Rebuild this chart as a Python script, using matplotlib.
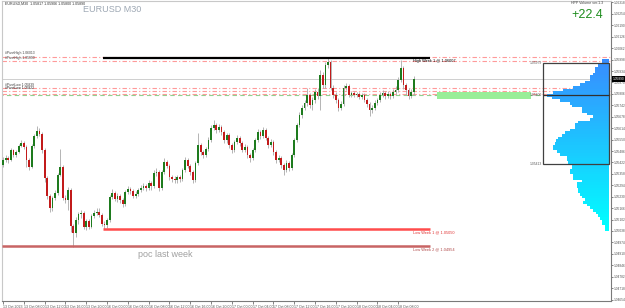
import matplotlib.pyplot as plt
from matplotlib.patches import Rectangle
from matplotlib.transforms import blended_transform_factory

# EURUSD M30 candles (open of each bar = previous close)
first_open = 1.05408
closes = [1.05436, 1.05447, 1.05436, 1.05492, 1.05464, 1.05481, 1.05514, 1.05531, 1.05509, 1.05436,
          1.05397, 1.05514, 1.05570, 1.05598, 1.05582, 1.05492, 1.05335, 1.05234, 1.05167, 1.05223,
          1.05251, 1.05352, 1.05397, 1.05223, 1.05212, 1.05268, 1.05066, 1.05027, 1.05100, 1.05134,
          1.05139, 1.05061, 1.05094, 1.05061, 1.05122, 1.05139, 1.05145, 1.05128, 1.05078, 1.05072,
          1.05100, 1.05229, 1.05251, 1.05218, 1.05234, 1.05212, 1.05190, 1.05257, 1.05274, 1.05262,
          1.05234, 1.05246, 1.05268, 1.05279, 1.05290, 1.05279, 1.05307, 1.05290, 1.05363, 1.05369,
          1.05279, 1.05369, 1.05425, 1.05402, 1.05341, 1.05330, 1.05324, 1.05341, 1.05330, 1.05380,
          1.05436, 1.05402, 1.05369, 1.05324, 1.05419, 1.05520, 1.05481, 1.05464, 1.05498, 1.05548,
          1.05615, 1.05632, 1.05604, 1.05621, 1.05593, 1.05548, 1.05576, 1.05520, 1.05492, 1.05537,
          1.05559, 1.05531, 1.05492, 1.05509, 1.05464, 1.05447, 1.05492, 1.05548, 1.05593, 1.05570,
          1.05604, 1.05559, 1.05520, 1.05537, 1.05481, 1.05436, 1.05447, 1.05408, 1.05380, 1.05419,
          1.05391, 1.05464, 1.05548, 1.05632, 1.05688, 1.05727, 1.05755, 1.05800, 1.05744, 1.05772,
          1.05817, 1.05794, 1.05912, 1.05856, 1.05968, 1.05985, 1.05839, 1.05800, 1.05772, 1.05727,
          1.05750, 1.05839, 1.05850, 1.05800, 1.05811, 1.05800, 1.05806, 1.05789, 1.05800, 1.05772,
          1.05750, 1.05716, 1.05727, 1.05755, 1.05772, 1.05800, 1.05811, 1.05794, 1.05806, 1.05794,
          1.05817, 1.05828, 1.05884, 1.05951, 1.05856, 1.05828, 1.05794, 1.05817, 1.05890]
highs = [1.05453, 1.05464, 1.05458, 1.05503, 1.05498, 1.05492, 1.05526, 1.05548, 1.05542, 1.05520,
         1.05447, 1.05526, 1.05582, 1.05626, 1.05615, 1.05593, 1.05503, 1.05346, 1.05246, 1.05234,
         1.05268, 1.05363, 1.05498, 1.05408, 1.05240, 1.05285, 1.05279, 1.05078, 1.05117, 1.05145,
         1.05156, 1.05150, 1.05106, 1.05106, 1.05134, 1.05156, 1.05167, 1.05167, 1.05139, 1.05094,
         1.05111, 1.05240, 1.05274, 1.05262, 1.05251, 1.05246, 1.05223, 1.05268, 1.05290, 1.05285,
         1.05274, 1.05262, 1.05279, 1.05296, 1.05307, 1.05302, 1.05324, 1.05318, 1.05380, 1.05391,
         1.05380, 1.05380, 1.05447, 1.05436, 1.05414, 1.05352, 1.05346, 1.05352, 1.05352, 1.05391,
         1.05453, 1.05447, 1.05414, 1.05380, 1.05430, 1.05587, 1.05531, 1.05492, 1.05509, 1.05565,
         1.05632, 1.05660, 1.05643, 1.05638, 1.05632, 1.05604, 1.05587, 1.05587, 1.05531, 1.05548,
         1.05576, 1.05570, 1.05542, 1.05526, 1.05520, 1.05475, 1.05503, 1.05559, 1.05610, 1.05604,
         1.05621, 1.05615, 1.05570, 1.05554, 1.05548, 1.05492, 1.05464, 1.05458, 1.05419, 1.05436,
         1.05430, 1.05475, 1.05559, 1.05643, 1.05705, 1.05744, 1.05772, 1.05839, 1.05811, 1.05789,
         1.05834, 1.05839, 1.05940, 1.05929, 1.05985, 1.06007, 1.05996, 1.05856, 1.05817, 1.05783,
         1.05766, 1.05856, 1.05867, 1.05862, 1.05822, 1.05822, 1.05817, 1.05817, 1.05811, 1.05811,
         1.05783, 1.05761, 1.05744, 1.05772, 1.05783, 1.05817, 1.05828, 1.05822, 1.05822, 1.05817,
         1.05834, 1.05850, 1.05901, 1.05996, 1.05962, 1.05867, 1.05839, 1.05834, 1.05906]
lows = [1.05397, 1.05425, 1.05419, 1.05430, 1.05453, 1.05453, 1.05475, 1.05509, 1.05498, 1.05397,
        1.05380, 1.05391, 1.05503, 1.05559, 1.05570, 1.05475, 1.05313, 1.05218, 1.05145, 1.05150,
        1.05212, 1.05240, 1.05346, 1.05212, 1.05195, 1.05156, 1.05033, 1.04949, 1.05005, 1.05078,
        1.05111, 1.05050, 1.05044, 1.05050, 1.05055, 1.05111, 1.05128, 1.05117, 1.05066, 1.05050,
        1.05055, 1.05089, 1.05218, 1.05206, 1.05201, 1.05195, 1.05173, 1.05178, 1.05246, 1.05246,
        1.05223, 1.05223, 1.05234, 1.05257, 1.05268, 1.05262, 1.05268, 1.05268, 1.05279, 1.05346,
        1.05262, 1.05268, 1.05358, 1.05391, 1.05324, 1.05313, 1.05307, 1.05307, 1.05313, 1.05318,
        1.05369, 1.05391, 1.05352, 1.05307, 1.05313, 1.05408, 1.05464, 1.05447, 1.05453, 1.05486,
        1.05537, 1.05604, 1.05587, 1.05593, 1.05576, 1.05531, 1.05531, 1.05503, 1.05475, 1.05481,
        1.05526, 1.05514, 1.05481, 1.05481, 1.05447, 1.05425, 1.05436, 1.05481, 1.05537, 1.05554,
        1.05559, 1.05548, 1.05503, 1.05509, 1.05464, 1.05419, 1.05425, 1.05391, 1.05352, 1.05369,
        1.05374, 1.05380, 1.05453, 1.05537, 1.05621, 1.05671, 1.05716, 1.05738, 1.05727, 1.05716,
        1.05755, 1.05778, 1.05716, 1.05839, 1.05839, 1.05951, 1.05828, 1.05783, 1.05755, 1.05710,
        1.05716, 1.05738, 1.05828, 1.05789, 1.05789, 1.05789, 1.05789, 1.05778, 1.05778, 1.05761,
        1.05733, 1.05682, 1.05699, 1.05716, 1.05744, 1.05761, 1.05789, 1.05778, 1.05783, 1.05778,
        1.05783, 1.05806, 1.05817, 1.05873, 1.05834, 1.05800, 1.05778, 1.05783, 1.05800]
opens = [first_open] + closes[:-1]

time_labels = ['13 Oct 2023', '13 Oct 08:00', '13 Oct 12:00', '13 Oct 16:00', '13 Oct 20:00',
               '16 Oct 00:00', '16 Oct 04:00', '16 Oct 08:00', '16 Oct 12:00', '16 Oct 16:00',
               '16 Oct 20:00', '17 Oct 00:00', '17 Oct 04:00', '17 Oct 08:00', '17 Oct 12:00',
               '17 Oct 16:00', '17 Oct 20:00', '18 Oct 00:00', '18 Oct 04:00', '18 Oct 08:00']
price_ticks = [1.04654, 1.04718, 1.04782, 1.04846, 1.04910, 1.04974, 1.05038, 1.05102, 1.05166,
               1.05230, 1.05294, 1.05358, 1.05422, 1.05486, 1.05550, 1.05614, 1.05678, 1.05742,
               1.05806, 1.05870, 1.05934, 1.05998, 1.06062, 1.06126, 1.06190, 1.06254, 1.06318]

# weekly levels
high_week1 = 1.06007
low_week1 = 1.05050
low_week2 = 1.04954
level_lines = [1.06013, 1.05990, 1.05839, 1.05822, 1.05806]
zone_top, zone_bottom = 1.05817, 1.05778
bid = closes[-1]

# volume profile (levels from top down, volume per level)
profile_levels = [1.05993 - 0.00015 * k for k in range(64)]
profile_vol = [7, 7, 11, 14, 14, 16, 19, 19, 24, 29, 36, 46, 56, 62, 57, 49, 39, 37, 27, 27,
               22, 16, 19, 31, 34, 34, 39, 44, 47, 51, 53, 54, 56, 56, 52, 49, 42, 42, 41, 37,
               37, 39, 39, 36, 36, 27, 32, 32, 31, 31, 29, 27, 24, 26, 22, 19, 16, 13, 11, 9,
               7, 7, 4, 4]
va_high, va_low, poc = 1.05979, 1.05413, 1.05800

plt.rcParams['font.family'] = ['Liberation Sans', 'DejaVu Sans']

fig = plt.figure(figsize=(6.25, 3.08), dpi=100)
ax = fig.add_axes([2 / 625, 7 / 308, 609 / 625, 300 / 308])
ax.set_xlim(-0.4, 233.85)
ax.set_ylim(1.04646, 1.06326)

# level lines
for lv in level_lines:
    ax.axhline(lv, color='#ff9a9a', lw=0.8, ls=(0, (4, 2, 1, 2)), zorder=1)
ax.axhline(1.05800, color='#90d090', lw=0.8, ls=(3, (4, 3)), zorder=1)
ax.axhline(bid, color='#c8c8c8', lw=0.6, zorder=1)

# candles
idx = list(range(len(closes)))
ax.vlines(idx, lows, highs, color='#a8a8a8', lw=0.6, zorder=2)
body_bottom = [min(o, c) for o, c in zip(opens, closes)]
body_h = [max(abs(c - o), 0.00003) for o, c in zip(opens, closes)]
colors = ['#1e7b1e' if c >= o else '#c21b1b' for o, c in zip(opens, closes)]
ax.bar(idx, body_h, bottom=body_bottom, width=0.68, color=colors, linewidth=0, zorder=3)

# weekly lines
ax.hlines(high_week1, 38.5, 164.2, color='black', lw=1.6, zorder=4)
ax.hlines(low_week1, 38.5, 164.2, color='#ff4c4c', lw=1.8, zorder=4)
ax.hlines(low_week2, -0.4, 164.2, color='#c86464', lw=1.8, zorder=4)
ax.text(157.5, high_week1 - 0.00007, 'High Week 1 @ 1.06007', fontsize=2.8, color='black', va='top')
ax.text(157.5, low_week1 - 0.00008, 'Low Week 1 @ 1.05050', fontsize=2.8, color='#e03030', va='top')
ax.text(157.5, low_week2 - 0.00008, 'Low Week 2 @ 1.04954', fontsize=2.8, color='#b04848', va='top')
ax.text(52, 1.04904, 'poc last week', fontsize=6.5, color='#a0a0a0', va='center')

# zone
ax.add_patch(Rectangle((167, zone_bottom), 36, zone_top - zone_bottom, color='#98ee98', lw=0, zorder=2))

# volume profile on a second axes (x measured in pixels leftwards from the right edge)
ax2 = fig.add_axes(ax.get_position(), sharey=ax, frameon=False)
ax2.set_xlim(607, -2)
cols = []
n = len(profile_levels)
for k in range(n):
    t = k / (n - 1)
    cols.append((0.22 * (1 - t), 0.55 + 0.45 * t, 1.0))
ax2.barh(profile_levels, profile_vol, height=0.00015, left=0, color=cols, linewidth=0, zorder=2)
ax2.add_patch(Rectangle((0, va_low), 66, va_high - va_low, fill=False, ec='#404040', lw=0.9, zorder=3))
ax2.hlines(poc, 0, 66, color='#303030', lw=0.9, zorder=3)
for v in (va_high, poc, va_low):
    ax2.text(67, v, f'{v:.5f}', fontsize=2.4, color='#606060', ha='right', va='center')
ax2.axis('off')

# axes styling
for s in ('top', 'left'):
    ax.spines[s].set_color('#c8c8c8')
for s in ('right', 'bottom'):
    ax.spines[s].set_color('#7a7a7a')
ax.yaxis.tick_right()
ax.set_yticks(price_ticks)
ax.set_yticklabels([f'{p:.5f}' for p in price_ticks])
ax.tick_params(axis='y', length=1.5, width=0.5, labelsize=2.3, pad=0.6, colors='#505050')
ax.set_xticks(list(range(0, 8 * len(time_labels), 8)))
ax.set_xticklabels(time_labels)
ax.tick_params(axis='x', length=2, width=0.5, labelsize=2.6, pad=1, colors='#505050')
for lab in ax.get_xticklabels():
    lab.set_ha('left')

tr = blended_transform_factory(ax.transAxes, ax.transData)
ax.text(1.003, bid, f'{bid:.5f}', transform=tr, fontsize=2.3, color='white', va='center',
        bbox=dict(facecolor='black', edgecolor='none', pad=0.5))

# header texts
fig.text(5 / 625, 1 - 3.5 / 308, 'EURUSD,M30  1.05817 1.05906 1.05800 1.05890', fontsize=2.6,
         color='#303030', va='center')
fig.text(83 / 625, 1 - 9.5 / 308, 'EURUSD M30', fontsize=6.5, color='#9ea8b4', va='center')
fig.text(603 / 625, 1 - 3.5 / 308, 'HPP Volume ver.1.3', fontsize=2.6, color='#404040',
         ha='right', va='center')
fig.text(603 / 625, 1 - 15 / 308, '+22.4', fontsize=9, color='#1c8c1c', ha='right', va='center')

# left-side level labels
ax.text(0.6, 1.06022, '#PivotHigh 1.06013', fontsize=2.4, color='#404040', va='bottom')
ax.text(0.6, 1.05995, '#PivotHigh 1.05990', fontsize=2.4, color='#404040', va='bottom')
ax.text(0.6, 1.05845, '#PivotLow 1.05839', fontsize=2.4, color='#404040', va='bottom')
ax.text(0.6, 1.05826, '#PivotLow 1.05822', fontsize=2.4, color='#202020', va='bottom')

fig.savefig('out.png', dpi=100)
